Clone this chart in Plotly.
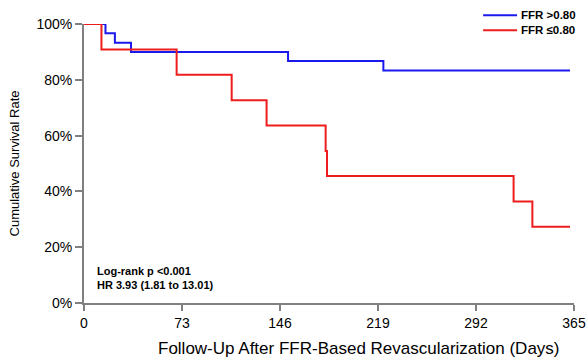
import plotly.graph_objects as go

# Kaplan-Meier step data (days, survival %)
blue_days = [0, 16, 23, 35, 152, 223, 362]
blue_surv = [100, 96.7, 93.3, 90.0, 86.7, 83.3, 83.3]
red_days = [0, 13, 69, 110, 136, 180, 181, 320, 334, 362]
red_surv = [100, 90.9, 81.8, 72.7, 63.6, 54.5, 45.5, 36.4, 27.3, 27.3]

series_names = ["FFR >0.80", "FFR ≤0.80"]
series_colors = ["#1a1aee", "#ee1c1c"]
x_ticks = [0, 73, 146, 219, 292, 365]
y_ticks = [0, 20, 40, 60, 80, 100]
y_tick_labels = ["0%", "20%", "40%", "60%", "80%", "100%"]

FONT = "Liberation Sans, Arial, sans-serif"

fig = go.Figure()
fig.add_trace(go.Scatter(x=blue_days, y=blue_surv, mode="lines", line_shape="hv",
                         line=dict(color=series_colors[0], width=2), name=series_names[0]))
fig.add_trace(go.Scatter(x=red_days, y=red_surv, mode="lines", line_shape="hv",
                         line=dict(color=series_colors[1], width=2), name=series_names[1]))

# compact legend (line keys + labels)
for i, (nm, col) in enumerate(zip(series_names, series_colors)):
    yy = 1.0314 - i * 0.0536
    fig.add_shape(type="line", xref="paper", yref="paper", x0=0.8145, x1=0.8838, y0=yy, y1=yy,
                  line=dict(color=col, width=2))
    fig.add_annotation(x=0.887, y=yy, xref="paper", yref="paper", xanchor="left", yanchor="middle",
                       showarrow=False, text="<b>" + nm + "</b>",
                       font=dict(family=FONT, size=11.5, color="black"))

fig.add_annotation(x=0.022, y=0.088, xref="paper", yref="paper", xanchor="left", yanchor="middle",
                   align="left", showarrow=False,
                   text="<b>Log-rank p <0.001<br>HR 3.93 (1.81 to 13.01)</b>",
                   font=dict(family=FONT, size=11, color="black"))

# x-axis title (offset right of the plot centre, as in the reference)
fig.add_annotation(x=359, y=349, xref="paper", yref="paper", showarrow=False,
                   text="Follow-Up After FFR-Based Revascularization (Days)",
                   font=dict(family=FONT, size=17, color="black"))
fig.layout.annotations[-1].update(x=(359 - 83.5) / 490.5, y=(303.3 - 349) / 279.8,
                                  xanchor="center", yanchor="middle")

fig.update_layout(
    width=587, height=359,
    margin=dict(l=83.5, r=13, t=23.5, b=55.7, autoexpand=False),
    paper_bgcolor="white", plot_bgcolor="white",
    font=dict(family=FONT, color="black"),
    showlegend=False,
    xaxis=dict(range=[0, 365], tickvals=x_ticks, showgrid=False, zeroline=False, automargin=False,
               showline=True, linecolor="#808080", linewidth=2,
               ticks="outside", ticklen=6, tickwidth=1.5, tickcolor="#808080",
               tickfont=dict(size=14, family=FONT)),
    yaxis=dict(range=[0, 100], tickvals=y_ticks, ticktext=y_tick_labels, showgrid=False, zeroline=False,
               automargin=False,
               showline=True, linecolor="#808080", linewidth=2,
               ticks="outside", ticklen=7, tickwidth=1.5, tickcolor="#808080",
               tickfont=dict(size=14, family=FONT),
               title=dict(text="Cumulative Survival Rate", font=dict(size=13, family=FONT), standoff=14)),
)

fig.write_html("out.html", config={"displayModeBar": False},
               post_script="document.body.style.margin='0';")
